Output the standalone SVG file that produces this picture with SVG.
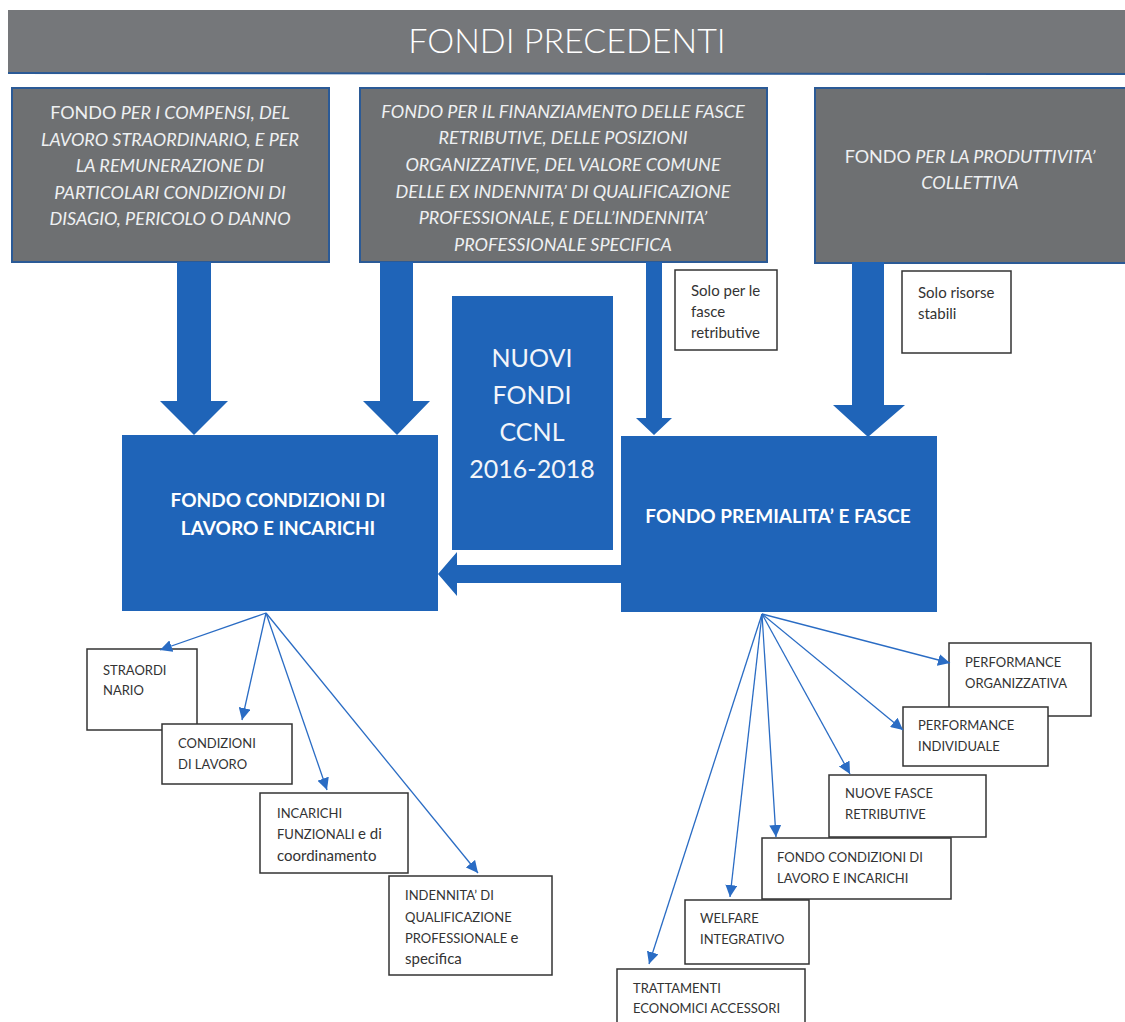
<svg xmlns="http://www.w3.org/2000/svg" width="1125" height="1022" viewBox="0 0 1125 1022">
<defs>
<marker id="ah" viewBox="0 0 10 10" refX="10" refY="5" markerWidth="12" markerHeight="12" markerUnits="userSpaceOnUse" orient="auto">
<path d="M0,0 L10,5 L0,10 z" fill="#2a6cc4"/>
</marker>
<style>
.grey{fill:#6e7072;stroke:#2b5a96;stroke-width:2}
.gt{font-family:Lato,"Open Sans",sans-serif;font-size:18px;fill:#eef0f2;text-anchor:middle;font-style:italic}
.up{font-style:normal}
.blue{fill:#1f64b8}
.bt{font-family:Lato,"Open Sans",sans-serif;font-size:19px;font-weight:bold;fill:#ffffff;text-anchor:middle}
.nt{font-family:Lato,"Open Sans",sans-serif;font-size:25px;fill:#f2f5fa;text-anchor:middle}
.wb{fill:#ffffff;stroke:#333333;stroke-width:1.5}
.st{font-family:Lato,"Open Sans",sans-serif;font-size:13px;fill:#333333}
.lc{font-size:15px}
.ln{stroke:#2a6cc4;stroke-width:1.3;fill:none}
</style>
</defs>
<rect width="1125" height="1022" fill="#ffffff"/>

<g id="header">
<rect x="8" y="10" width="1117" height="63" fill="#75777a"/>
<line x1="8" y1="73" x2="1125" y2="74" stroke="#2b5a96" stroke-width="2"/>
<text x="567" y="53" font-family="Lato,'Open Sans',sans-serif" font-size="34" font-weight="300" fill="#ffffff" text-anchor="middle">FONDI PRECEDENTI</text>
</g>

<g id="fondo-compensi">
<rect class="grey" x="12" y="88" width="317" height="174"/>
<text class="gt" x="170" y="119"><tspan class="up">FONDO</tspan> PER I COMPENSI, DEL</text>
<text class="gt" x="170" y="146">LAVORO STRAORDINARIO, E PER</text>
<text class="gt" x="170" y="172">LA REMUNERAZIONE DI</text>
<text class="gt" x="170" y="199">PARTICOLARI CONDIZIONI DI</text>
<text class="gt" x="170" y="225">DISAGIO, PERICOLO O DANNO</text>
</g>

<g id="fondo-finanziamento">
<rect class="grey" x="360" y="88" width="407" height="174"/>
<text class="gt" x="563" y="118">FONDO PER IL FINANZIAMENTO DELLE FASCE</text>
<text class="gt" x="563" y="144">RETRIBUTIVE, DELLE POSIZIONI</text>
<text class="gt" x="563" y="171">ORGANIZZATIVE, DEL VALORE COMUNE</text>
<text class="gt" x="563" y="198">DELLE EX INDENNITA’ DI QUALIFICAZIONE</text>
<text class="gt" x="563" y="224">PROFESSIONALE, E DELL’INDENNITA’</text>
<text class="gt" x="563" y="251">PROFESSIONALE SPECIFICA</text>
</g>

<g id="fondo-produttivita">
<rect class="grey" x="815" y="88" width="312" height="175"/>
<text class="gt" x="970" y="163"><tspan class="up">FONDO</tspan> PER LA PRODUTTIVITA’</text>
<text class="gt" x="970" y="189">COLLETTIVA</text>
</g>

<g id="note-fasce">
<rect class="wb" x="675" y="270" width="102" height="80"/>
<text class="st lc" x="691" y="296">Solo per le</text>
<text class="st lc" x="691" y="317">fasce</text>
<text class="st lc" x="691" y="338">retributive</text>
</g>

<g id="note-stabili">
<rect class="wb" x="902" y="271" width="109" height="82"/>
<text class="st lc" x="918" y="298">Solo risorse</text>
<text class="st lc" x="918" y="319">stabili</text>
</g>

<g id="nuovi-fondi">
<rect class="blue" x="452" y="296" width="161" height="254"/>
<text class="nt" x="532" y="367">NUOVI</text>
<text class="nt" x="532" y="404">FONDI</text>
<text class="nt" x="532" y="441">CCNL</text>
<text class="nt" x="532" y="478">2016-2018</text>
</g>

<g id="fondo-condizioni">
<rect class="blue" x="122" y="435" width="316" height="176"/>
<text class="bt" x="278" y="507">FONDO CONDIZIONI DI</text>
<text class="bt" x="278" y="535">LAVORO E INCARICHI</text>
</g>

<g id="fondo-premialita">
<rect class="blue" x="621" y="436" width="316" height="176"/>
<text class="bt" x="778" y="523" font-size="20">FONDO PREMIALITA’ E FASCE</text>
</g>

<g id="straordinario">
<rect class="wb" x="87" y="649" width="110" height="81"/>
<text class="st" x="103" y="675">STRAORDI</text>
<text class="st" x="103" y="695">NARIO</text>
</g>
<g id="condizioni-lavoro">
<rect class="wb" x="162" y="724" width="130" height="60"/>
<text class="st" x="178" y="748">CONDIZIONI</text>
<text class="st" x="178" y="769">DI LAVORO</text>
</g>
<g id="incarichi">
<rect class="wb" x="260" y="793" width="148" height="80"/>
<text class="st" x="277" y="818">INCARICHI</text>
<text class="st" x="277" y="839">FUNZIONALI <tspan font-size="15">e di</tspan></text>
<text class="st lc" x="277" y="861">coordinamento</text>
</g>
<g id="indennita">
<rect class="wb" x="389" y="876" width="163" height="99"/>
<text class="st" x="405" y="900">INDENNITA’ DI</text>
<text class="st" x="405" y="922">QUALIFICAZIONE</text>
<text class="st" x="405" y="943">PROFESSIONALE <tspan font-size="15">e</tspan></text>
<text class="st lc" x="405" y="964">specifica</text>
</g>

<g id="perf-organizzativa">
<rect class="wb" x="949" y="643" width="142" height="73"/>
<text class="st" x="965" y="667">PERFORMANCE</text>
<text class="st" x="965" y="688">ORGANIZZATIVA</text>
</g>
<g id="perf-individuale">
<rect class="wb" x="903" y="707" width="145" height="59"/>
<text class="st" x="918" y="730">PERFORMANCE</text>
<text class="st" x="918" y="751">INDIVIDUALE</text>
</g>
<g id="nuove-fasce">
<rect class="wb" x="829" y="775" width="157" height="62"/>
<text class="st" x="845" y="798">NUOVE FASCE</text>
<text class="st" x="845" y="819">RETRIBUTIVE</text>
</g>
<g id="fondo-condizioni-2">
<rect class="wb" x="762" y="838" width="189" height="61"/>
<text class="st" x="777" y="862">FONDO CONDIZIONI DI</text>
<text class="st" x="777" y="883">LAVORO E INCARICHI</text>
</g>
<g id="welfare">
<rect class="wb" x="685" y="900" width="124" height="64"/>
<text class="st" x="700" y="923">WELFARE</text>
<text class="st" x="700" y="944">INTEGRATIVO</text>
</g>
<g id="trattamenti">
<rect class="wb" x="617" y="969" width="188" height="60"/>
<text class="st" x="633" y="993">TRATTAMENTI</text>
<text class="st" x="633" y="1013">ECONOMICI ACCESSORI</text>
</g>

<g id="connectors">
<path class="blue" d="M177,262 H211 V401 H228 L194,435 L160,401 H177 Z"/>
<path class="blue" d="M380,262 H413 V401 H430 L397,435 L363,401 H380 Z"/>
<path class="blue" d="M646,262 H662 V418 H672 L654,435 L636,418 H646 Z"/>
<path class="blue" d="M852,262 H884 V405 H905 L868,437 L833,405 H852 Z"/>
<path class="blue" d="M621,565 V583 H457 V596 L438,574 L457,552 V565 Z"/>

<line class="ln" x1="266" y1="613" x2="160" y2="650" marker-end="url(#ah)"/>
<line class="ln" x1="266" y1="613" x2="242" y2="720" marker-end="url(#ah)"/>
<line class="ln" x1="266" y1="613" x2="327" y2="790" marker-end="url(#ah)"/>
<line class="ln" x1="266" y1="613" x2="478" y2="873" marker-end="url(#ah)"/>

<line class="ln" x1="762" y1="614" x2="950" y2="663" marker-end="url(#ah)"/>
<line class="ln" x1="762" y1="614" x2="903" y2="730" marker-end="url(#ah)"/>
<line class="ln" x1="762" y1="614" x2="850" y2="774" marker-end="url(#ah)"/>
<line class="ln" x1="762" y1="614" x2="776" y2="837" marker-end="url(#ah)"/>
<line class="ln" x1="762" y1="614" x2="730" y2="897" marker-end="url(#ah)"/>
<line class="ln" x1="762" y1="614" x2="649" y2="964" marker-end="url(#ah)"/>
</g>
</svg>
